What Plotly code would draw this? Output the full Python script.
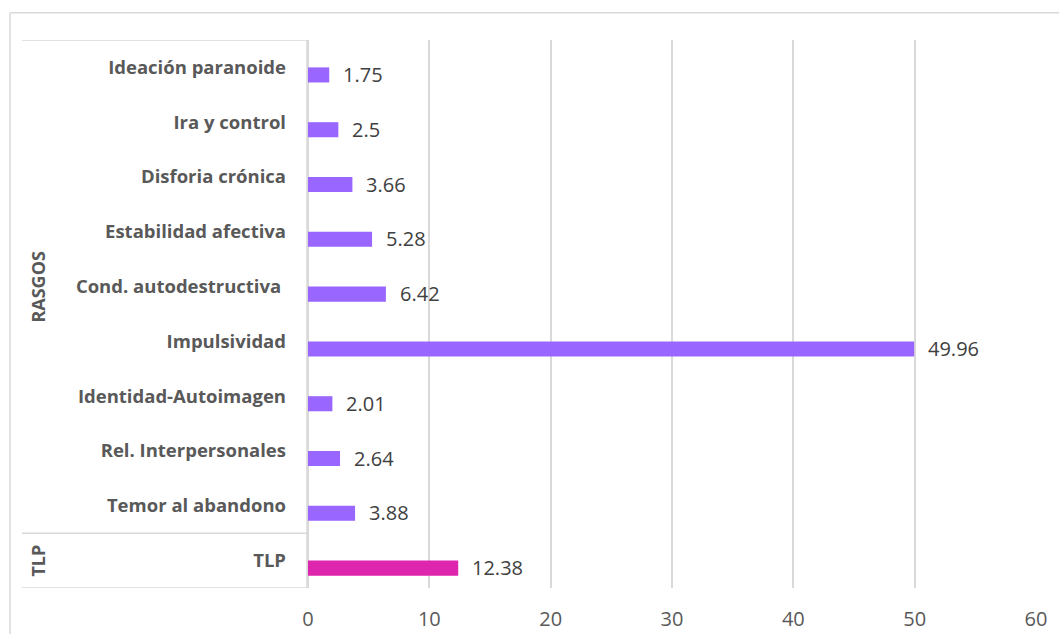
import plotly.graph_objects as go

# ---- data (bottom to top) ----
categories = ["TLP", "Temor al abandono", "Rel. Interpersonales", "Identidad-Autoimagen",
              "Impulsividad", "Cond. autodestructiva\u00a0", "Estabilidad afectiva",
              "Disforia crónica", "Ira y control", "Ideación paranoide"]
values = [12.38, 3.88, 2.64, 2.01, 49.96, 6.42, 5.28, 3.66, 2.5, 1.75]
value_labels = ["12.38", "3.88", "2.64", "2.01", "49.96", "6.42", "5.28", "3.66", "2.5", "1.75"]
groups = ["TLP", "RASGOS", "RASGOS", "RASGOS", "RASGOS", "RASGOS", "RASGOS", "RASGOS", "RASGOS", "RASGOS"]
group_names = ["TLP", "RASGOS"]
group_colors = {"TLP": "#DD25AD", "RASGOS": "#9966FF"}
x_ticks = [0, 10, 20, 30, 40, 50, 60]

# the captured picture is slightly compressed vertically; compensate
SY = 0.985
W, H = 1059, round(634 / SY)
PL, PR = 308, 1036
PT, PB = 39 / SY, 584 / SY            # plot area in figure pixels
L, T = PL, PT
R, B = W - PR, H - PB
pw, ph = PR - PL, PB - PT

def px_x(p):
    return (p - PL) / pw

def px_y(p):
    return (PB - p / SY) / ph

idx = list(range(len(categories)))

fig = go.Figure()
fig.add_trace(go.Bar(
    y=idx, x=values, orientation="h",
    marker=dict(color=[group_colors[g] for g in groups], line=dict(width=0)),
    width=0.275, offset=-0.275,
    hoverinfo="x+y",
))

annotations = []
for i, v, t in zip(idx, values, value_labels):
    annotations.append(dict(x=v, y=i, xref="x", yref="y", text=t, showarrow=False,
                            xanchor="left", yanchor="middle", xshift=12, yshift=-7,
                            font=dict(family="Open Sans", size=20, color="#404040")))

# group labels and separators
grid_col = "#D9D9D9"
shapes = []
for gname in group_names:
    members = [i for i, g in zip(idx, groups) if g == gname]
    lo, hi = min(members), max(members)
    annotations.append(dict(x=px_x(38), y=(lo + hi) / 2, xref="paper", yref="y", text=gname,
                            showarrow=False, textangle=-90, xanchor="center", yanchor="middle",
                            font=dict(family="Open Sans", size=18, color="#595959", weight="bold")))
    shapes.append(dict(type="line", xref="paper", yref="y", x0=px_x(22), x1=px_x(307),
                       y0=hi + 0.5, y1=hi + 0.5, line=dict(color=grid_col, width=1.5)))
shapes.append(dict(type="line", xref="paper", yref="y", x0=px_x(22), x1=px_x(307),
                   y0=-0.5, y1=-0.5, line=dict(color=grid_col, width=1.5)))
shapes.append(dict(type="line", xref="paper", yref="paper", x0=px_x(307), x1=px_x(307),
                   y0=0, y1=1, line=dict(color=grid_col, width=1.5)))
# outer frame
shapes.append(dict(type="line", xref="paper", yref="paper", x0=px_x(10), x1=px_x(10),
                   y0=px_y(12), y1=px_y(680), line=dict(color=grid_col, width=1.5)))
shapes.append(dict(type="line", xref="paper", yref="paper", x0=px_x(10), x1=px_x(1080),
                   y0=px_y(12), y1=px_y(12), line=dict(color=grid_col, width=1.5)))

fig.update_layout(
    width=W, height=H,
    margin=dict(l=L, r=R, t=T, b=B, pad=0),
    paper_bgcolor="white", plot_bgcolor="white",
    showlegend=False,
    annotations=annotations, shapes=shapes,
    xaxis=dict(range=[0, 60], tickvals=x_ticks, showgrid=True, gridcolor=grid_col, gridwidth=1.5,
               zeroline=True, zerolinecolor=grid_col, zerolinewidth=1.5, showline=False,
               ticks="", ticklabelstandoff=17,
               tickfont=dict(family="Open Sans", size=20, color="#595959")),
    yaxis=dict(range=[-0.5, 9.5], tickvals=idx, ticktext=categories, showgrid=False,
               zeroline=False, showline=False, ticks="", ticklabelstandoff=21,
               tickfont=dict(family="Open Sans", size=18.5, color="#595959", weight="bold")),
)

page_css = (
    "var s=document.createElement('style');"
    "s.textContent='html,body{margin:0;padding:0;overflow:hidden;}';"
    "document.head.appendChild(s);"
)

fig.write_html("out.html", config={"displayModeBar": False}, post_script=page_css)
